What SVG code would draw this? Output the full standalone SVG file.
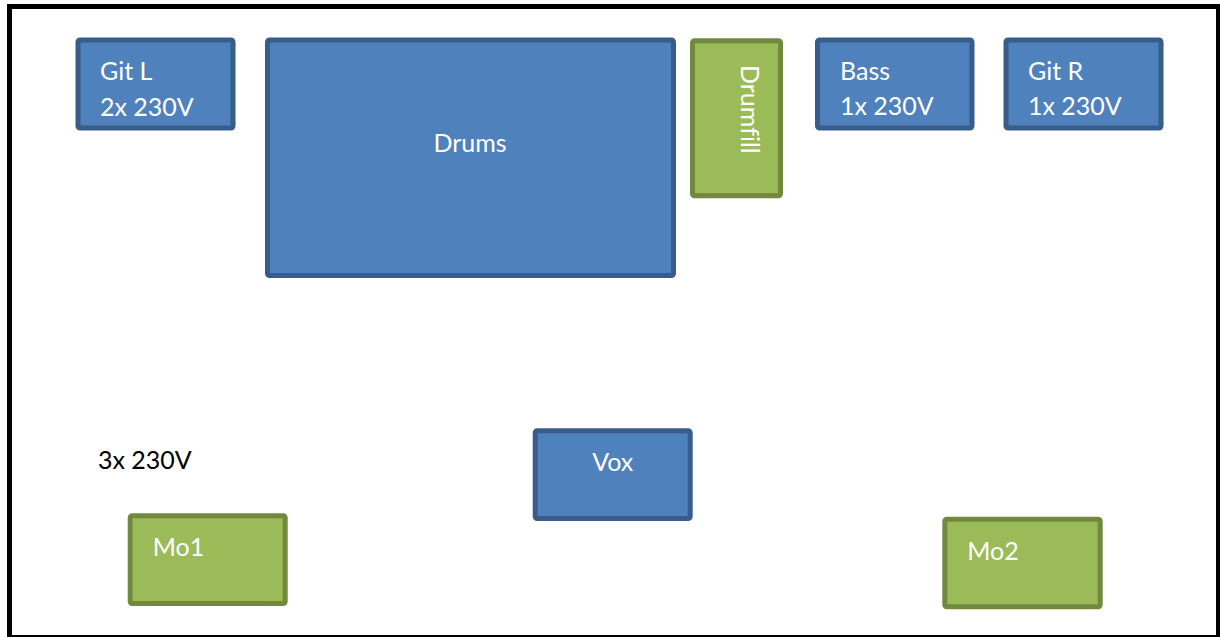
<svg xmlns="http://www.w3.org/2000/svg" width="1220" height="637" viewBox="0 0 1220 637">
<style>
.blue{fill:#4F81BD;stroke:#385D8A;stroke-width:5}
.green{fill:#9BBB59;stroke:#71893F;stroke-width:5}
.t{font-family:Lato,"Liberation Sans",sans-serif;font-size:25px;fill:#FFFFFF}
.k{font-family:Lato,"Liberation Sans",sans-serif;font-size:25px;fill:#000000}
</style>
<rect x="0" y="0" width="1220" height="637" fill="#FFFFFF"/>
<rect x="9.5" y="6.5" width="1209" height="631" fill="none" stroke="#000000" stroke-width="5"/>
<g id="connectors"></g>
<g id="git-l">
<rect class="blue" x="78" y="40" width="155" height="88" rx="2"/>
<text class="t" x="100" y="80">Git L</text>
<text class="t" x="100" y="116">2x 230V</text>
</g>
<g id="drums">
<rect class="blue" x="267.5" y="40" width="406" height="235.5" rx="2"/>
<text class="t" x="470" y="152" text-anchor="middle">Drums</text>
</g>
<g id="drumfill">
<rect class="green" x="692.5" y="40.8" width="88" height="155" rx="2"/>
<text class="t" style="font-variant-ligatures:none" transform="translate(741,65) rotate(90)">Drumfill</text>
</g>
<g id="bass">
<rect class="blue" x="817.5" y="40" width="154.5" height="88" rx="2"/>
<text class="t" x="840" y="80">Bass</text>
<text class="t" x="840" y="115">1x 230V</text>
</g>
<g id="git-r">
<rect class="blue" x="1006" y="40" width="155" height="88" rx="2"/>
<text class="t" x="1028" y="80">Git R</text>
<text class="t" x="1028" y="115">1x 230V</text>
</g>
<g id="power-label">
<text class="k" x="98" y="469">3x 230V</text>
</g>
<g id="vox">
<rect class="blue" x="535.2" y="430.8" width="155" height="87.7" rx="2"/>
<text class="t" x="612.7" y="471" text-anchor="middle">Vox</text>
</g>
<g id="mo1">
<rect class="green" x="130.2" y="515.8" width="155" height="87.7" rx="2"/>
<text class="t" x="152.7" y="556">Mo1</text>
</g>
<g id="mo2">
<rect class="green" x="944.8" y="519.2" width="155.4" height="87.6" rx="2"/>
<text class="t" x="967.3" y="560">Mo2</text>
</g>
</svg>
